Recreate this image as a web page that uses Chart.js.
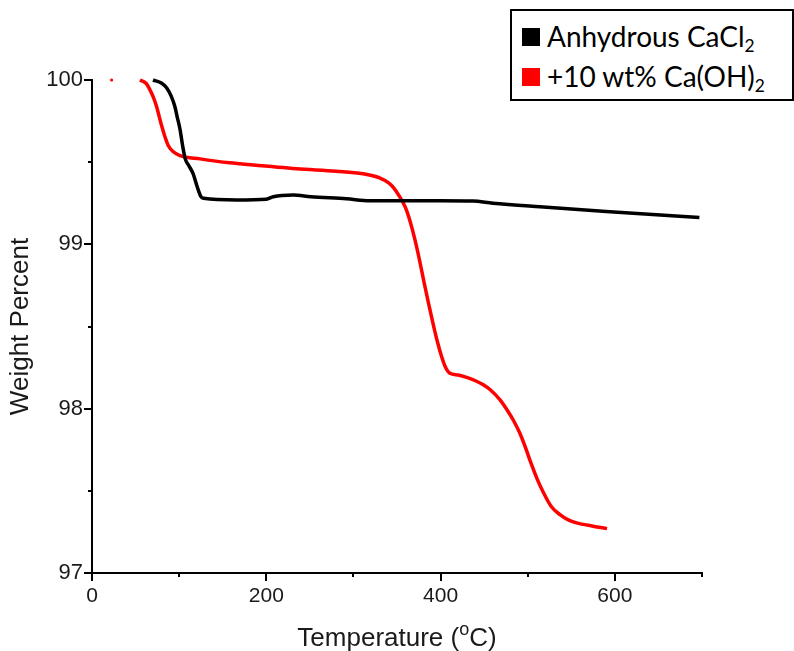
<!DOCTYPE html>
<html><head><meta charset="utf-8">
<script src="https://cdn.jsdelivr.net/npm/chart.js@4.4.1/dist/chart.umd.min.js"></script>
<style>
html,body{margin:0;padding:0;background:#fff;}
#wrap{position:relative;width:794px;height:651px;}
#legend{position:absolute;left:510px;top:9px;width:284px;height:92px;box-sizing:border-box;border:2px solid #000;background:#fff;font-family:Lato,'Open Sans',sans-serif;font-size:28px;color:#000;}
.sw{position:absolute;left:10px;width:18px;height:18px;}
.lbl{position:absolute;left:35px;white-space:nowrap;line-height:28px;}
sub{font-size:0.62em;vertical-align:-0.3em;line-height:0;}
</style></head>
<body>
<div id="wrap">
<canvas id="c" width="794" height="651"></canvas>
<div id="legend">
  <div class="sw" style="top:17px;background:#000"></div>
  <div class="lbl" style="top:11px">Anhydrous CaCl<sub>2</sub></div>
  <div class="sw" style="top:57px;background:#ff0000"></div>
  <div class="lbl" style="top:51px">+10 wt% Ca(OH)<sub>2</sub></div>
</div>
</div>
<script>
// ---- data ----
const tempBlack = [70,80,86,91,95,98,101,104,107,111,116,119,122,125,128,166,200,208,231,251,292,319,399,437,460,514,590,697];
const weightBlack = [100.0,99.98,99.95,99.9,99.84,99.77,99.70,99.6,99.52,99.48,99.43,99.38,99.33,99.29,99.28,99.27,99.275,99.29,99.30,99.29,99.277,99.265,99.265,99.263,99.25,99.228,99.20,99.163];

const tempRed = [22.5,null,55,62,66.5,70,74,77,80,84,87.6,93,101,124,158,170,235,280,311,330,340,346,353,360,365,370.5,376,381,386,391.5,396,401,405,410.7,420,430,440,449,457,468,476,484,491,498,504,511,518,527,537,546,556,575,591];
const weightRed = [100.0,null,100.0,99.98,99.94,99.9,99.84,99.78,99.72,99.65,99.60,99.565,99.54,99.52,99.496,99.49,99.46,99.445,99.43,99.405,99.375,99.345,99.29,99.22,99.14,99.03,98.90,98.77,98.645,98.515,98.415,98.32,98.26,98.215,98.205,98.19,98.17,98.145,98.115,98.055,97.995,97.925,97.85,97.755,97.665,97.57,97.49,97.405,97.355,97.325,97.305,97.285,97.27];

const seriesNames = ['Anhydrous CaCl2', '+10 wt% Ca(OH)2'];
const xMajorTicks = [0,200,400,600];
const yMajorTicks = [97,98,99,100];
const xMin = 0, xMax = 700, xMinorStep = 100, xMajorStep = 200;
const yMin = 97, yMax = 100, yMinorStep = 0.5;
const xTitleParts = ['Temperature (', 'o', 'C)'];
const yTitle = 'Weight Percent';

const toXY = (xs, ys) => xs.map((x,i) => (x===null ? {x:null,y:null} : {x:x, y:ys[i]}));

const tickPlugin = {
  id:'ticksMarks',
  afterDraw(chart){
    const {ctx, scales:{x,y}} = chart;
    ctx.save(); ctx.strokeStyle='#000'; ctx.lineWidth=2; ctx.beginPath();
    for (let v=xMin; v<=xMax; v+=xMinorStep){
      const px = Math.round(x.getPixelForValue(v));
      const len = (v % xMajorStep === 0) ? 8 : 4;
      ctx.moveTo(px, y.bottom); ctx.lineTo(px, y.bottom+len);
    }
    for (let v=yMin; v<=yMax+1e-9; v+=yMinorStep){
      const py = Math.round(y.getPixelForValue(v));
      const len = Math.abs(v-Math.round(v))<1e-6 ? 8 : 4;
      ctx.moveTo(x.left, py); ctx.lineTo(x.left-len, py);
    }
    ctx.stroke(); ctx.restore();
  }
};

const xTitlePlugin = {
  id:'xTitle',
  afterDraw(chart){
    const ctx = chart.ctx, x = chart.scales.x;
    const big = '26px "Liberation Sans", Arial, sans-serif';
    const small = '18px "Liberation Sans", Arial, sans-serif';
    const parts = [[xTitleParts[0], big, 0], [xTitleParts[1], small, -11], [xTitleParts[2], big, 0]];
    ctx.save();
    let total = 0;
    parts.forEach(p => { ctx.font = p[1]; p.push(ctx.measureText(p[0]).width); total += p[3]; });
    let cx = (x.left + x.right)/2 - total/2;
    const base = 646;
    ctx.fillStyle = '#1a1a1a'; ctx.textBaseline = 'alphabetic'; ctx.textAlign = 'left';
    parts.forEach(p => { ctx.font = p[1]; ctx.fillText(p[0], cx, base + p[2]); cx += p[3]; });
    ctx.restore();
  }
};

new Chart(document.getElementById('c'), {
  type: 'scatter',
  data: {
    datasets: [
      { label: seriesNames[0], data: toXY(tempBlack, weightBlack), showLine: true, borderColor: '#000', backgroundColor: '#000', borderWidth: 3.5, pointRadius: 0, cubicInterpolationMode: 'monotone', clip: false, spanGaps: false },
      { label: seriesNames[1], data: toXY(tempRed, weightRed), showLine: true, borderColor: '#ff0000', backgroundColor: '#ff0000', borderWidth: 3.5, pointRadius: ctx => ctx.dataIndex === 0 ? 1.6 : 0, pointBorderWidth: 0, cubicInterpolationMode: 'monotone', clip: false, spanGaps: false }
    ]
  },
  options: {
    responsive: false, animation: false,
    layout: { padding: { top: 80, right: 92, left: 0, bottom: 0 } },
    plugins: { legend: { display: false }, tooltip: { enabled: false } },
    scales: {
      x: {
        type: 'linear', min: xMin, max: xMax,
        afterBuildTicks: s => { s.ticks = xMajorTicks.map(v => ({value: v})); },
        afterFit: s => { s.height = 78; },
        grid: { display: true, drawOnChartArea: false, drawTicks: false },
        border: { display: true, color: '#000', width: 2 },
        ticks: { padding: 11, color: '#1a1a1a', font: { family: '"Liberation Sans", Arial, sans-serif', size: 21 }, maxRotation: 0 }
      },
      y: {
        type: 'linear', min: yMin, max: yMax,
        afterBuildTicks: s => { s.ticks = yMajorTicks.map(v => ({value: v})); },
        afterFit: s => { s.width = 92; },
        grid: { display: true, drawOnChartArea: false, drawTicks: false },
        border: { display: true, color: '#000', width: 2 },
        ticks: { padding: 9, color: '#1a1a1a', font: { family: '"Liberation Sans", Arial, sans-serif', size: 22 }, callback: v => String(v) },
        title: { display: true, text: yTitle, color: '#1a1a1a', font: { family: '"Liberation Sans", Arial, sans-serif', size: 26 }, padding: { top: 5, bottom: 0 } }
      }
    }
  },
  plugins: [tickPlugin, xTitlePlugin]
});
</script>
</body></html>
